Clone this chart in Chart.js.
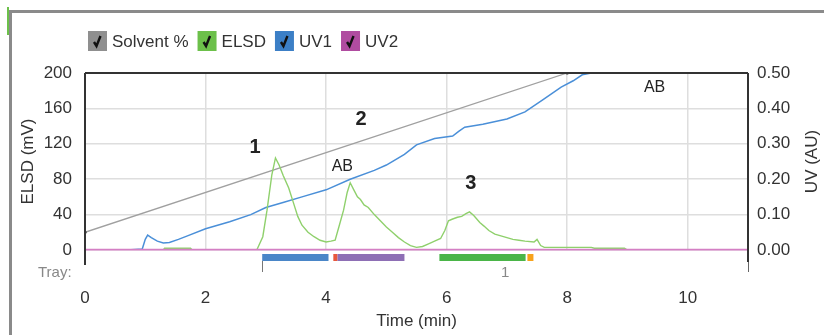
<!DOCTYPE html>
<html>
<head>
<meta charset="utf-8">
<script src="https://cdn.jsdelivr.net/npm/chart.js@4.4.1/dist/chart.umd.min.js"></script>
<style>
  html, body { margin: 0; padding: 0; background: #fff; }
  #wrap { width: 824px; height: 335px; position: relative; }
</style>
</head>
<body>
<div id="wrap"><canvas id="chromChart" width="824" height="335"></canvas></div>
<script>
// --- data ---
const solventTime = [0, 8, 11];
const solventPct = [10, 100, 100];

const elsdTime = [0, 1.3, 1.32, 1.75, 1.78, 2.85, 2.95, 3.02, 3.1, 3.16, 3.22, 3.29, 3.38, 3.46, 3.53, 3.6, 3.7, 3.8, 3.9, 4.0,
  4.08, 4.15, 4.22, 4.29, 4.35, 4.4, 4.46, 4.52, 4.57, 4.63, 4.7, 4.8, 4.9, 5.0, 5.1, 5.2, 5.3, 5.4, 5.5, 5.6,
  5.7, 5.8, 5.9, 5.97, 6.03, 6.1, 6.18, 6.25, 6.32, 6.38, 6.45, 6.55, 6.62, 6.7, 6.8, 6.9, 7.0, 7.1, 7.2, 7.3,
  7.45, 7.5, 7.56, 7.62, 8.4, 8.45, 8.95, 9.0, 11];
const elsdMv = [0, 0, 2, 2, 0, 0, 15, 45, 85, 104, 96, 84, 70, 53, 38, 28, 20, 15, 11, 9,
  10, 11, 28, 45, 65, 76, 68, 60, 57, 51, 48, 40, 33, 26, 20, 14, 9, 5, 3, 4,
  7, 10, 13, 22, 33, 35, 37, 38, 41, 43, 39, 31, 27, 22, 18, 16, 14, 12, 11, 10,
  9, 12, 5, 3, 3, 2, 2, 0, 0];

const uv1Time = [0, 0.7, 0.95, 1.0, 1.04, 1.1, 1.2, 1.3, 1.4, 1.55, 1.7, 2.0, 2.4, 2.75, 3.0, 3.3, 3.6, 4.0, 4.4, 4.8,
  5.0, 5.3, 5.5, 5.8, 6.1, 6.2, 6.3, 6.6, 7.0, 7.3, 7.6, 7.9, 8.1, 8.25, 8.4, 11];
const uv1Au = [0, 0, 0.003, 0.03, 0.042, 0.035, 0.025, 0.02, 0.021, 0.03, 0.04, 0.06, 0.08, 0.1, 0.12, 0.135, 0.15, 0.17, 0.2, 0.225,
  0.24, 0.27, 0.297, 0.315, 0.322, 0.335, 0.347, 0.355, 0.37, 0.39, 0.425, 0.46, 0.478, 0.495, 0.5, 0.5];

const uv2Time = [0, 11];
const uv2Au = [0.001, 0.001];

// fractions collected (tray 1)
const fracStart = [2.94, 4.12, 4.19, 5.88, 7.34];
const fracEnd = [4.04, 4.19, 5.30, 7.31, 7.44];
const fracColor = ['#4a86c8', '#e8573c', '#8e6fb5', '#4ab548', '#f7a21b'];
const trayStart = 2.94;
const trayLabel = '1';

// peak labels (time, ELSD mV)
const peakText = ['1', '2', '3', 'AB', 'AB'];
const peakTime = [2.82, 4.58, 6.40, 4.27, 9.45];
const peakMv = [116, 147, 75, 94, 183];
const peakBold = [true, true, true, false, false];

const xTickStep = 2;
const elsdTicks = [0, 40, 80, 120, 160, 200];
const uvTicks = [0, 0.1, 0.2, 0.3, 0.4, 0.5];

const FONT = '"Liberation Sans", Arial, sans-serif';
const TEXT = '#333';

function toPoints(xs, ys) {
  return xs.map((x, i) => ({ x: x, y: ys[i] }));
}

const legendColors = ['#8f8f8f', '#6cc04a', '#3c7fc6', '#b04ca0'];

const decorPlugin = {
  id: 'decor',
  beforeDraw(chart) {
    const ctx = chart.ctx;
    ctx.save();
    ctx.fillStyle = '#fff';
    ctx.fillRect(0, 0, chart.width, chart.height);
    ctx.restore();
  },
  afterDraw(chart) {
    const ctx = chart.ctx;
    const area = chart.chartArea;
    const xs = chart.scales.x;
    ctx.save();

    // outer frame
    ctx.fillStyle = '#8a8a8a';
    ctx.fillRect(9, 10, 824 - 9, 3);
    ctx.fillRect(9, 10, 3, 335 - 10);
    ctx.fillStyle = '#6cc04a';
    ctx.fillRect(7, 7, 2, 28);

    // plot frame lines
    ctx.strokeStyle = '#333';
    ctx.lineWidth = 2;
    ctx.beginPath();
    ctx.moveTo(area.left, area.top);
    ctx.lineTo(area.right, area.top);
    ctx.moveTo(area.left, area.top);
    ctx.lineTo(area.left, area.bottom + 15);
    ctx.moveTo(area.right, area.top);
    ctx.lineTo(area.right, area.bottom + 12);
    ctx.stroke();
    ctx.strokeStyle = '#666';
    ctx.lineWidth = 1;
    ctx.beginPath();
    ctx.moveTo(area.right + 0.5, area.bottom + 12);
    ctx.lineTo(area.right + 0.5, area.bottom + 22);
    ctx.stroke();

    // fraction bars
    fracStart.forEach((s, i) => {
      const x0 = xs.getPixelForValue(s);
      const x1 = xs.getPixelForValue(fracEnd[i]);
      ctx.fillStyle = fracColor[i];
      ctx.fillRect(x0, area.bottom + 4, x1 - x0, 7);
    });

    // tray bracket + labels
    const tx = Math.round(xs.getPixelForValue(trayStart)) + 0.5;
    ctx.strokeStyle = '#777';
    ctx.lineWidth = 1;
    ctx.beginPath();
    ctx.moveTo(tx, area.bottom + 11);
    ctx.lineTo(tx, area.bottom + 22);
    ctx.stroke();
    ctx.fillStyle = '#888';
    ctx.font = '15px ' + FONT;
    ctx.textAlign = 'center';
    ctx.textBaseline = 'middle';
    ctx.fillText(trayLabel, (tx + area.right) / 2, area.bottom + 23);
    ctx.textAlign = 'left';
    ctx.fillText('Tray:', 38, area.bottom + 23);

    // peak labels
    const ys = chart.scales.y;
    ctx.fillStyle = '#222';
    ctx.textAlign = 'center';
    peakText.forEach((t, i) => {
      ctx.font = (peakBold[i] ? 'bold 20px ' : '16px ') + FONT;
      ctx.fillText(t, xs.getPixelForValue(peakTime[i]), ys.getPixelForValue(peakMv[i]));
    });

    // axis titles
    ctx.fillStyle = TEXT;
    ctx.font = '17px ' + FONT;
    ctx.fillText('Time (min)', (area.left + area.right) / 2, 321);
    ctx.save();
    ctx.translate(28, (area.top + area.bottom) / 2);
    ctx.rotate(-Math.PI / 2);
    ctx.fillText('ELSD (mV)', 0, 0);
    ctx.restore();
    ctx.save();
    ctx.translate(812, (area.top + area.bottom) / 2);
    ctx.rotate(-Math.PI / 2);
    ctx.fillText('UV (AU)', 0, 0);
    ctx.restore();

    // legend with check boxes
    let lx = 88;
    const ly = 31;
    ctx.font = '17px ' + FONT;
    ctx.textAlign = 'left';
    chart.data.datasets.forEach((ds, i) => {
      ctx.fillStyle = legendColors[i];
      ctx.fillRect(lx, ly, 19, 20);
      ctx.strokeStyle = '#111';
      ctx.lineWidth = 2.4;
      ctx.beginPath();
      ctx.moveTo(lx + 6, ly + 11);
      ctx.lineTo(lx + 8.5, ly + 15);
      ctx.lineTo(lx + 12.5, ly + 5);
      ctx.stroke();
      ctx.fillStyle = TEXT;
      ctx.textBaseline = 'middle';
      ctx.fillText(ds.label, lx + 24, ly + 11);
      lx += 24 + ctx.measureText(ds.label).width + 9;
    });

    ctx.restore();
  }
};

const chart = new Chart(document.getElementById('chromChart'), {
  type: 'line',
  data: {
    datasets: [
      {
        label: 'Solvent %',
        data: toPoints(solventTime, solventPct),
        yAxisID: 'ySolvent',
        borderColor: '#a0a0a0',
        borderWidth: 1.3,
        pointRadius: [1.8, 1.8, 0],
        pointBackgroundColor: '#555',
        pointBorderWidth: 0,
        order: 2
      },
      {
        label: 'ELSD',
        data: toPoints(elsdTime, elsdMv),
        yAxisID: 'y',
        borderColor: '#8fd06c',
        borderWidth: 1.4,
        pointRadius: 0,
        order: 1
      },
      {
        label: 'UV1',
        data: toPoints(uv1Time, uv1Au),
        yAxisID: 'yUv',
        borderColor: '#4a8fd8',
        borderWidth: 1.5,
        pointRadius: 0,
        order: 1
      },
      {
        label: 'UV2',
        data: toPoints(uv2Time, uv2Au),
        yAxisID: 'yUv',
        borderColor: '#d47fc4',
        borderWidth: 1.8,
        pointRadius: 0,
        clip: 4,
        order: 0
      }
    ]
  },
  options: {
    responsive: false,
    animation: false,
    layout: { padding: { top: 73, left: 0, right: 0, bottom: 0 } },
    plugins: {
      legend: { display: false },
      tooltip: { enabled: false }
    },
    elements: { line: { tension: 0 } },
    scales: {
      x: {
        type: 'linear',
        min: 0,
        max: 11,
        afterFit: (s) => { s.height = 85; },
        border: { display: false },
        grid: { color: '#dedede', lineWidth: 1.5, drawTicks: false },
        ticks: {
          stepSize: xTickStep,
          includeBounds: false,
          padding: 38,
          color: TEXT,
          font: { family: FONT, size: 17 }
        }
      },
      y: {
        position: 'left',
        min: 0,
        max: 200,
        afterFit: (s) => { s.width = 85; },
        afterBuildTicks: (s) => { s.ticks = elsdTicks.map(v => ({ value: v })); },
        border: { display: false },
        grid: { color: '#dedede', lineWidth: 1.5, drawTicks: false },
        ticks: {
          padding: 13,
          color: TEXT,
          font: { family: FONT, size: 17 }
        }
      },
      yUv: {
        position: 'right',
        min: 0,
        max: 0.5,
        afterFit: (s) => { s.width = 76; },
        afterBuildTicks: (s) => { s.ticks = uvTicks.map(v => ({ value: v })); },
        border: { display: false },
        grid: { drawOnChartArea: false, drawTicks: false },
        ticks: {
          padding: 9,
          color: TEXT,
          font: { family: FONT, size: 17 },
          callback: (v) => Number(v).toFixed(2)
        }
      },
      ySolvent: {
        display: false,
        min: 0,
        max: 100
      }
    }
  },
  plugins: [decorPlugin]
});
</script>
</body>
</html>
